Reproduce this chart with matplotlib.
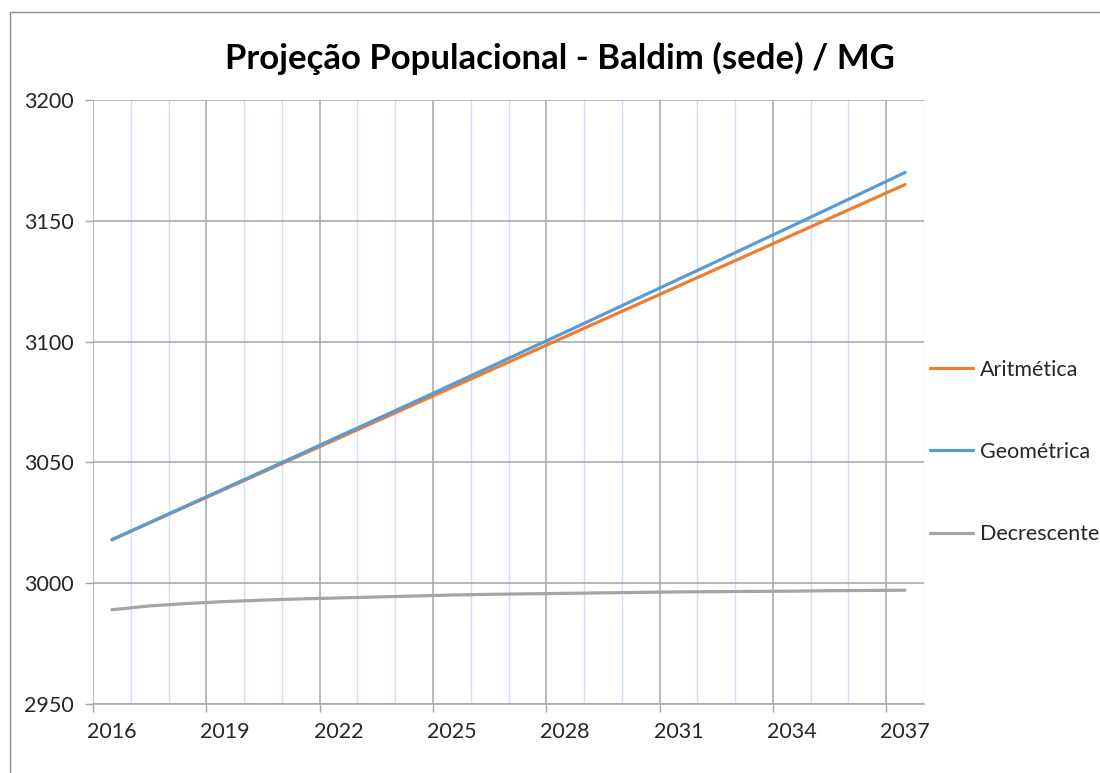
import numpy as np
import matplotlib
matplotlib.use("Agg")
import matplotlib.pyplot as plt
from matplotlib.patches import Rectangle

# data
years = list(range(2016, 2038))
aritmetica = [3018, 3025, 3032, 3039, 3046, 3053, 3060, 3067, 3074, 3081, 3088,
              3095, 3102, 3109, 3116, 3123, 3130, 3137, 3144, 3151, 3158, 3165]
geometrica = [3018.0, 3025.1, 3032.2, 3039.3, 3046.4, 3053.5, 3060.7, 3067.8,
              3075.0, 3082.2, 3089.4, 3096.7, 3103.9, 3111.2, 3118.5, 3125.8,
              3133.1, 3140.5, 3147.8, 3155.2, 3162.6, 3170.0]
decrescente = [2989.0, 2990.6, 2991.6, 2992.4, 2993.0, 2993.5, 2993.9, 2994.3,
               2994.7, 2995.1, 2995.4, 2995.6, 2995.8, 2996.0, 2996.2, 2996.4,
               2996.5, 2996.6, 2996.7, 2996.9, 2997.0, 2997.1]
series_names = ["Aritmética", "Geométrica", "Decrescente"]
series_colors = ["#ED7D31", "#5B9BD5", "#A5A5A5"]
y_ticks = [2950, 3000, 3050, 3100, 3150, 3200]

plt.rcParams["font.family"] = ["Lato", "DejaVu Sans"]

fig = plt.figure(figsize=(11, 7.73), dpi=100)
ax = fig.add_axes([93 / 1100, 1 - 704 / 773, (924 - 93) / 1100, (704 - 100) / 773])

# chart area border (cut off at right/bottom like the reference)
fig.patches.append(Rectangle((10 / 1100, -0.1), 1.2, 1 - 12 / 773 + 0.1,
                             transform=fig.transFigure, fill=False,
                             edgecolor="#8C8C8C", linewidth=1.0, zorder=0))

x = np.arange(len(years))
for vals, name, col in zip([aritmetica, geometrica, decrescente], series_names, series_colors):
    ax.plot(x, vals, color=col, linewidth=2.3, label=name, solid_capstyle="round", zorder=3)

n = len(years)
ax.set_xlim(-0.5, n - 0.5)
ax.set_ylim(y_ticks[0], y_ticks[-1])

# category axis: boundaries every 3 years in gray, every year in light blue
ax.set_xticks(np.arange(-0.5, n, 3))
ax.set_xticklabels([])
ax.set_xticks(np.arange(-0.5, n, 1), minor=True)
ax.tick_params(axis="x", which="major", length=6, width=1, color="#A6A6A6", direction="out")
ax.tick_params(axis="x", which="minor", length=0)
ax.grid(True, axis="x", which="major", color="#A6A6A6", linewidth=1.1, zorder=1)
ax.grid(True, axis="x", which="minor", color="#CFE0F7", linewidth=1.0, zorder=1)

ax.set_yticks(y_ticks)
ax.tick_params(axis="y", length=6, width=1, color="#A6A6A6", labelsize=15.5, pad=8, labelcolor="#262626")
ax.grid(True, axis="y", color="#A6A6A6", linewidth=1.1, zorder=1)
ax.set_axisbelow(True)

# labels centred on categories
sec = ax.secondary_xaxis("bottom")
sec.set_xticks(x[::3])
sec.set_xticklabels([str(y) for y in years[::3]])
sec.tick_params(length=0, pad=13, labelsize=15.5, labelcolor="#262626")
sec.spines["bottom"].set_visible(False)

for side in ["top", "right", "left"]:
    ax.spines[side].set_visible(False)
ax.spines["bottom"].set_color("#A6A6A6")
ax.spines["bottom"].set_linewidth(1.1)

fig.text(560 / 1100, 1 - 58 / 773, "Projeção Populacional - Baldim (sede) / MG",
         ha="center", va="center", fontsize=25, fontweight="bold", color="black")

fig.legend(loc="center left", bbox_to_anchor=(930 / 1100, 1 - 452 / 773),
           frameon=False, fontsize=15.5, handlelength=2.0, handletextpad=0.3,
           labelspacing=2.9, borderpad=0, borderaxespad=0, labelcolor="#262626")

fig.savefig("out.png", dpi=100)
